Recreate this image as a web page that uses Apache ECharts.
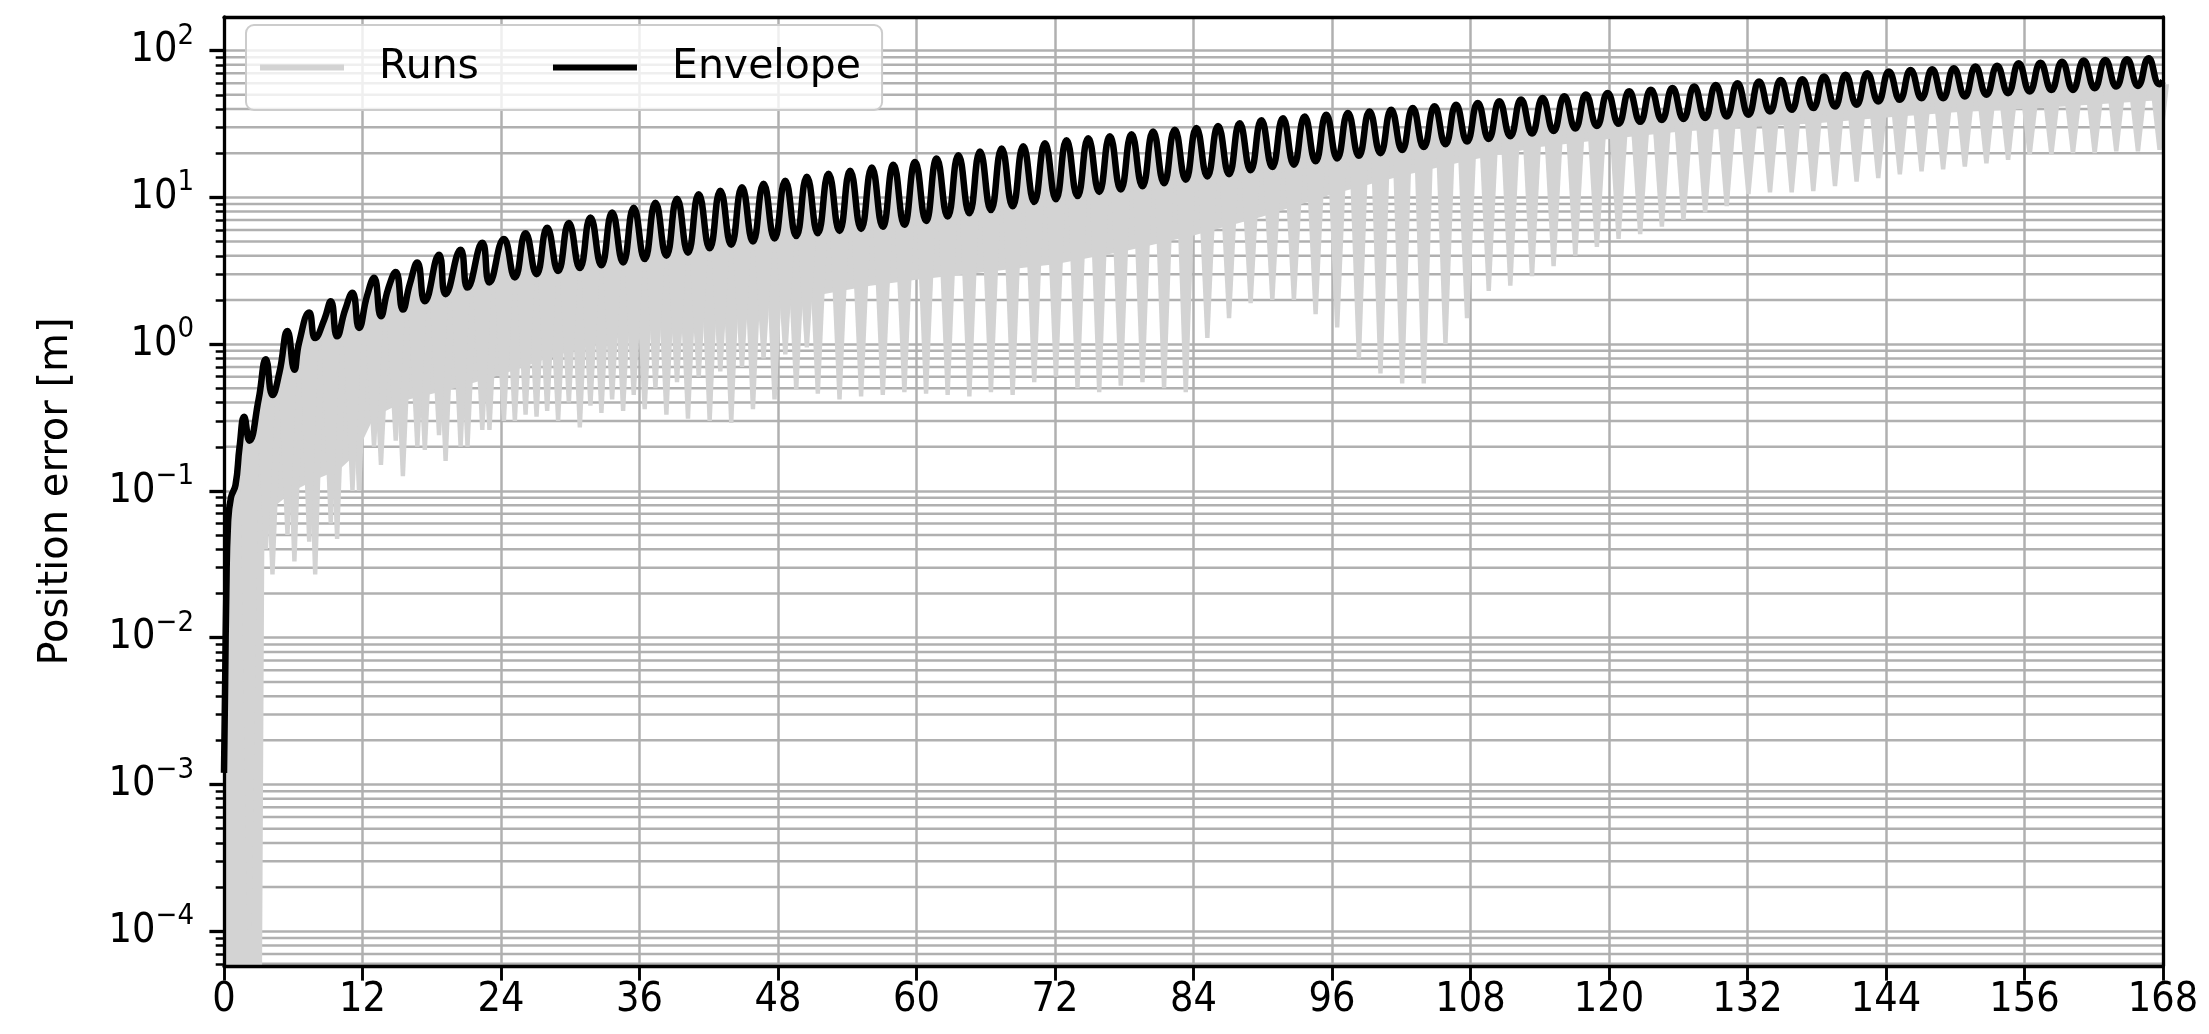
<!DOCTYPE html>
<html>
<head>
<meta charset="utf-8">
<script src="https://cdn.jsdelivr.net/npm/echarts@6/dist/echarts.min.js"></script>
<style>
html,body{margin:0;padding:0;background:#fff;}
#chart{width:2209px;height:1034px;}
</style>
</head>
<body>
<div id="chart"></div>
<script>
// ---------- data ----------
const xTicks = [0, 12, 24, 36, 48, 60, 72, 84, 96, 108, 120, 132, 144, 156, 168];
const yMajorTicks = [1e-4, 1e-3, 1e-2, 1e-1, 1, 10, 100];
const yMinorTicks = [6e-5, 7e-5, 8e-5, 9e-5,
  2e-4, 3e-4, 4e-4, 5e-4, 6e-4, 7e-4, 8e-4, 9e-4,
  2e-3, 3e-3, 4e-3, 5e-3, 6e-3, 7e-3, 8e-3, 9e-3,
  2e-2, 3e-2, 4e-2, 5e-2, 6e-2, 7e-2, 8e-2, 9e-2,
  0.2, 0.3, 0.4, 0.5, 0.6, 0.7, 0.8, 0.9,
  2, 3, 4, 5, 6, 7, 8, 9,
  20, 30, 40, 50, 60, 70, 80, 90];

// Envelope: initial rise
const riseT = [0, 0.1, 0.2, 0.35, 0.6, 1.0, 1.35];
const riseV = [0.0012, 0.005, 0.02, 0.06, 0.09, 0.11, 0.2];
// Envelope: orbit peaks
const peakT = [1.75, 3.63, 5.5, 7.38, 9.25, 11.13, 13.0, 14.88, 16.75, 18.63, 20.5, 22.38, 24.25, 26.13, 28.0, 29.88, 31.75, 33.63, 35.5, 37.38, 39.25, 41.13, 43.0, 44.88, 46.75, 48.63, 50.5, 52.38, 54.25, 56.13, 58.0, 59.88, 61.75, 63.63, 65.5, 67.38, 69.25, 71.13, 73.0, 74.88, 76.75, 78.63, 80.5, 82.38, 84.25, 86.13, 88.0, 89.88, 91.75, 93.63, 95.5, 97.38, 99.25, 101.13, 103.0, 104.88, 106.75, 108.63, 110.5, 112.38, 114.25, 116.13, 118.0, 119.88, 121.75, 123.63, 125.5, 127.38, 129.25, 131.13, 133.0, 134.88, 136.75, 138.63, 140.5, 142.38, 144.25, 146.13, 148.0, 149.88, 151.75, 153.63, 155.5, 157.38, 159.25, 161.13, 163.0, 164.88, 166.75];
const peakV = [0.32, 0.79, 1.23, 1.64, 1.96, 2.24, 2.83, 3.1, 3.6, 4.07, 4.4, 4.9, 5.2, 5.7, 6.2, 6.7, 7.3, 7.9, 8.5, 9.2, 9.8, 10.5, 11.1, 11.7, 12.4, 13.0, 13.8, 14.5, 15.2, 16.0, 16.7, 17.4, 18.4, 19.4, 20.5, 21.5, 22.3, 23.4, 24.5, 25.3, 26.1, 26.9, 28.1, 28.9, 29.7, 30.6, 32.0, 33.5, 34.6, 35.6, 36.6, 37.6, 38.5, 39.5, 40.6, 41.7, 42.8, 44.0, 45.2, 46.4, 47.6, 48.9, 50.2, 51.5, 52.8, 54.2, 55.6, 57.0, 58.4, 60.0, 61.6, 63.1, 63.8, 66.6, 68.4, 70.2, 72.0, 73.9, 74.5, 75.9, 77.8, 78.7, 82.0, 82.5, 84.1, 85.5, 86.4, 87.4, 88.7];
// Envelope: orbit troughs
const troughT = [2.2, 4.2, 6.1, 7.9, 9.8, 11.7, 13.6, 15.5, 17.4, 19.2, 21.1, 23.0, 25.2, 27.08, 28.95, 30.83, 32.7, 34.58, 36.45, 38.33, 40.2, 42.08, 43.95, 45.83, 47.7, 49.58, 51.45, 53.33, 55.2, 57.08, 58.95, 60.83, 62.7, 64.58, 66.45, 68.33, 70.2, 72.08, 73.95, 75.83, 77.7, 79.58, 81.45, 83.33, 85.2, 87.08, 88.95, 90.83, 92.7, 94.58, 96.45, 98.33, 100.2, 102.08, 103.95, 105.83, 107.7, 109.58, 111.45, 113.33, 115.2, 117.08, 118.95, 120.83, 122.7, 124.58, 126.45, 128.33, 130.2, 132.08, 133.95, 135.83, 137.7, 139.58, 141.45, 143.33, 145.2, 147.08, 148.95, 150.83, 152.7, 154.58, 156.45, 158.33, 160.2, 162.08, 163.95, 165.83, 167.7];
const troughV = [0.22, 0.45, 0.67, 1.1, 1.13, 1.29, 1.55, 1.72, 1.96, 2.19, 2.43, 2.63, 2.85, 3.0, 3.15, 3.3, 3.45, 3.6, 3.8, 4.0, 4.2, 4.5, 4.75, 5.0, 5.25, 5.45, 5.7, 5.9, 6.1, 6.3, 6.5, 6.9, 7.4, 7.8, 8.2, 8.7, 9.3, 9.7, 10.2, 10.9, 11.3, 11.9, 12.5, 13.2, 13.9, 14.4, 15.3, 16.1, 16.7, 17.6, 18.4, 19.2, 20.0, 21.0, 22.0, 23.0, 24.0, 25.0, 26.1, 27.2, 28.3, 29.5, 30.6, 31.7, 32.7, 33.7, 34.2, 34.7, 35.6, 36.5, 38.5, 39.5, 40.6, 41.6, 42.7, 45.0, 46.2, 47.4, 47.4, 48.7, 50.0, 51.3, 52.6, 54.0, 54.0, 55.5, 56.9, 57.5, 59.0];
// Envelope: shoulders of the early double bumps, and the last point
const shoulderT = [3.0, 4.8, 6.5, 8.7, 10.5, 12.4, 14.2, 16.1];
const shoulderV = [0.42, 0.64, 1.02, 1.48, 1.72, 2.14, 2.35, 2.57];
const tailT = [168];
const tailV = [62];

// Runs: deepest dip of the runs at each orbit trough
const dipV = [1e-4, 0.027, 0.033, 0.027, 0.047, 0.1, 0.15, 0.126, 0.19, 0.16, 0.2, 0.26, 0.3, 0.32, 0.3, 0.27, 0.34, 0.35, 0.36, 0.33, 0.31, 0.3, 0.29, 0.36, 0.42, 0.49, 0.46, 0.42, 0.44, 0.45, 0.47, 0.46, 0.45, 0.44, 0.47, 0.45, 0.55, 0.6, 0.5, 0.47, 0.52, 0.55, 0.5, 0.47, 1.1, 1.5, 1.9, 2.0, 2.0, 1.6, 1.3, 0.8, 0.63, 0.54, 0.54, 1.0, 1.5, 2.3, 2.5, 2.9, 3.4, 4.0, 4.6, 5.2, 5.6, 6.3, 7.0, 7.9, 8.7, 10.5, 10.8, 10.8, 11.0, 11.9, 12.8, 13.5, 14.3, 15.0, 15.5, 16.2, 17.0, 18.0, 19.5, 19.5, 20.0, 20.0, 20.5, 20.5, 21.0];
// Runs: secondary dips (mid-orbit) in the first two days
const dip2T = [3.63, 5.5, 7.38, 9.25, 11.13, 13.0, 14.88, 16.75, 18.63, 20.5, 22.38, 24.25, 26.13, 28.0, 29.88, 31.75, 33.63, 35.5, 37.38, 39.25, 41.13, 43.0, 44.88, 46.75, 48.63, 50.5];
const dip2V = [0.04, 0.05, 0.045, 0.06, 0.1, 0.2, 0.22, 0.2, 0.24, 0.2, 0.26, 0.3, 0.33, 0.35, 0.4, 0.38, 0.42, 0.45, 0.5, 0.55, 0.6, 0.65, 0.7, 0.8, 0.85, 0.95];
// Runs: lower edge of the dense band of runs
const lowT = [0, 3.3, 3.5, 4.5, 6, 8, 10, 11.5, 13, 16, 20, 24, 28, 32, 36, 40, 44, 48, 52, 56, 60, 66, 72, 78, 84, 90, 96, 102, 108, 114, 120, 126, 132, 138, 144, 150, 156, 162, 168];
const lowV = [5.8e-5, 5.8e-5, 0.05, 0.08, 0.1, 0.12, 0.14, 0.18, 0.32, 0.42, 0.5, 0.62, 0.8, 1.0, 1.2, 1.5, 1.75, 1.95, 2.2, 2.5, 2.75, 3.1, 3.5, 4.3, 5.5, 7.4, 10.5, 14, 18, 22, 25, 28, 30, 32, 35, 38, 40, 43, 46];

// ---------- build ----------
const Y_MIN = 5.8e-5, Y_MAX = 169.4;
const GREY = '#d3d3d3';
const GRID_C = '#b0b0b0';
const COND = "'DejaVu Sans Condensed', 'DejaVu Sans', sans-serif";
const SANS = "'DejaVu Sans', sans-serif";

const envPts = [];
[[riseT, riseV], [peakT, peakV], [troughT, troughV], [shoulderT, shoulderV], [tailT, tailV]]
  .forEach(([ts, vs]) => ts.forEach((t, i) => envPts.push([t, vs[i]])));
envPts.sort((a, b) => a[0] - b[0]);

// spike: [time, top value (band level), bottom value]
const spikeData = troughT.map((t, i) => [t, troughV[i], dipV[i]]);
dip2T.forEach((t, i) => {
  const j = troughT.findIndex(tt => tt > t);   // the trough that follows this mid-orbit dip
  spikeData.push([t, troughV[j], dip2V[i]]);
});

const chart = echarts.init(document.getElementById('chart'), null, {renderer: 'canvas'});

function yLabel(v) {
  const e = Math.round(Math.log10(v));
  return '{b|10}{s|' + (e < 0 ? '\u2212' : '') + Math.abs(e) + '}';
}

const option = {
  animation: false,
  backgroundColor: '#fff',
  grid: {left: 224, right: 46, top: 17, bottom: 68, containLabel: false, outerBoundsMode: 'none', show: false},
  legend: {
    show: true, left: 246, top: 25, orient: 'horizontal',
    padding: [22, 21, 22, 14], itemWidth: 84, itemHeight: 6, itemGap: 74,
    backgroundColor: 'rgba(255,255,255,0.8)', borderColor: '#cccccc', borderWidth: 2, borderRadius: 8,
    selectedMode: false,
    textStyle: {fontSize: 41, fontFamily: SANS, color: '#000', padding: [0, 0, 0, 30], lineHeight: 41},
    data: [
      {name: 'Runs', icon: 'rect', itemStyle: {color: GREY}},
      {name: 'Envelope', icon: 'rect', itemStyle: {color: '#000'}}
    ]
  },
  xAxis: [
    {
      type: 'value', position: 'bottom', min: 0, max: 168, interval: 12, z: 0,
      axisLine: {show: false},
      axisTick: {show: true, length: 14.6, lineStyle: {color: '#000', width: 2.9}},
      axisLabel: {show: true, margin: 14, fontSize: 41, fontFamily: COND, color: '#000',
        customValues: xTicks, formatter: v => String(v)},
      splitLine: {show: true, lineStyle: {color: GRID_C, width: 2.5}}
    },
    {
      type: 'value', position: 'top', min: 0, max: 168, z: 10,
      axisLine: {show: true, onZero: false, lineStyle: {color: '#000', width: 3.3}},
      axisTick: {show: false}, axisLabel: {show: false}, splitLine: {show: false}
    },
    {
      type: 'value', position: 'bottom', min: 0, max: 168, z: 10,
      axisLine: {show: true, onZero: false, lineStyle: {color: '#000', width: 3.3}},
      axisTick: {show: false}, axisLabel: {show: false}, splitLine: {show: false}
    }
  ],
  yAxis: [
    {
      type: 'log', logBase: 10, min: Y_MIN, max: Y_MAX, position: 'left', z: 0,
      name: 'Position error [m]', nameLocation: 'middle', nameGap: 147, nameRotate: 90,
      nameTextStyle: {fontSize: 40, fontFamily: SANS, color: '#000'},
      axisLine: {show: false},
      axisTick: {show: true, length: 14.6, customValues: yMajorTicks, lineStyle: {color: '#000', width: 3.3}},
      axisLabel: {show: true, margin: 30, customValues: yMajorTicks, formatter: yLabel,
        rich: {
          b: {fontSize: 41, fontFamily: COND, color: '#000', lineHeight: 58},
          s: {fontSize: 29, fontFamily: COND, color: '#000', verticalAlign: 'top', lineHeight: 29}
        }},
      splitLine: {show: true, lineStyle: {color: GRID_C, width: 2.5}}
    },
    {
      type: 'log', logBase: 10, min: Y_MIN, max: Y_MAX, position: 'left', z: 10,
      axisLine: {show: true, onZero: false, lineStyle: {color: '#000', width: 3.3}},
      axisTick: {show: true, length: 8.3, customValues: yMinorTicks, lineStyle: {color: '#000', width: 2.5}},
      axisLabel: {show: false}, splitLine: {show: false}
    },
    {
      type: 'log', logBase: 10, min: Y_MIN, max: Y_MAX, position: 'right', z: 10,
      axisLine: {show: true, onZero: false, lineStyle: {color: '#000', width: 3.3}},
      axisTick: {show: false}, axisLabel: {show: false}, splitLine: {show: false}
    }
  ],
  series: [
    {
      // minor horizontal grid lines
      type: 'custom', name: '_minorgrid', coordinateSystem: 'cartesian2d', xAxisIndex: 0, yAxisIndex: 0,
      z: 1, silent: true, legendHoverLink: false,
      data: yMinorTicks.map(v => [0, v]),
      encode: {x: 0, y: 1},
      renderItem: function (params, api) {
        const v = api.value(1);
        const p0 = api.coord([0, v]);
        const p1 = api.coord([168, v]);
        return {type: 'line', shape: {x1: p0[0], y1: p0[1], x2: p1[0], y2: p1[1]},
          style: {stroke: GRID_C, lineWidth: 2.5}};
      }
    },
    {
      // dense band of runs below the envelope
      type: 'custom', name: 'Runs', coordinateSystem: 'cartesian2d', xAxisIndex: 0, yAxisIndex: 0,
      z: 2, silent: true, itemStyle: {color: GREY},
      data: [[0, 1]],
      encode: {x: 0, y: 1},
      renderItem: function (params, api) {
        const pts = [];
        for (let i = 0; i < envPts.length; i++) pts.push(api.coord(envPts[i]));
        for (let i = lowT.length - 1; i >= 0; i--) pts.push(api.coord([lowT[i], lowV[i]]));
        return {type: 'polygon', shape: {points: pts}, style: {fill: GREY}};
      }
    },
    {
      // orbit-periodic dips of the runs
      type: 'custom', name: 'Runs', coordinateSystem: 'cartesian2d', xAxisIndex: 0, yAxisIndex: 0,
      z: 2, silent: true, itemStyle: {color: GREY},
      data: spikeData,
      encode: {x: 0, y: [1, 2]},
      renderItem: function (params, api) {
        const t = api.value(0);
        const top = api.coord([t, api.value(1)]);
        const bot = api.coord([t, api.value(2)]);
        const W1 = 9.5, W2 = 2.2;
        return {type: 'polygon', shape: {points: [
          [top[0] - W1, top[1]], [top[0] + W1, top[1]],
          [bot[0] + W2, bot[1]], [bot[0] - W2, bot[1]]]},
          style: {fill: GREY}};
      }
    },
    {
      type: 'line', name: 'Envelope', xAxisIndex: 0, yAxisIndex: 0, z: 3,
      data: envPts, smooth: true, showSymbol: false, symbol: 'none',
      lineStyle: {color: '#000', width: 6.5, join: 'round'}, itemStyle: {color: '#000'},
      silent: true, clip: true
    }
  ]
};
chart.setOption(option);
</script>
</body>
</html>
